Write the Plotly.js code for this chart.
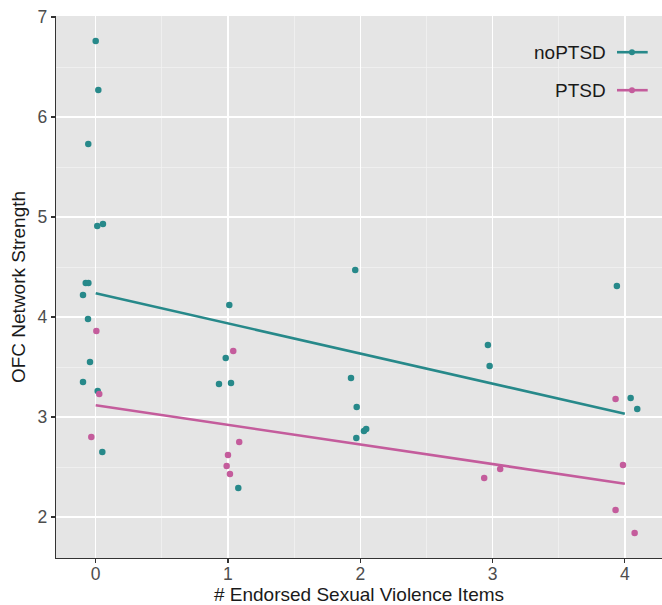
<!DOCTYPE html>
<html>
<head>
<meta charset="utf-8">
<script src="https://cdn.plot.ly/plotly-3.0.1.min.js"></script>
<style>html,body{margin:0;padding:0;background:#fff;}#chart{width:662px;height:605px;}</style>
</head>
<body>
<div id="chart"></div>
<script>
const noPTSD_x = [0.00, 0.02, -0.056, 0.012, 0.055, -0.075, -0.055, -0.096, -0.058, -0.043, -0.096, 0.015, 0.05,
                  1.01, 0.983, 0.932, 1.023, 1.078,
                  1.962, 1.93, 1.973, 2.028, 2.045, 1.97,
                  2.965, 2.978,
                  3.94, 4.044, 4.094];
const noPTSD_y = [6.76, 6.27, 5.73, 4.91, 4.93, 4.34, 4.34, 4.22, 3.98, 3.55, 3.35, 3.26, 2.65,
                  4.12, 3.59, 3.33, 3.34, 2.29,
                  4.47, 3.39, 3.10, 2.86, 2.88, 2.79,
                  3.72, 3.51,
                  4.31, 3.19, 3.08];
const PTSD_x = [0.005, 0.027, -0.033,
                1.04, 1.085, 1.0, 0.99, 1.015,
                3.058, 2.937,
                3.93, 3.986, 3.93, 4.074];
const PTSD_y = [3.86, 3.23, 2.80,
                3.66, 2.75, 2.62, 2.51, 2.43,
                2.48, 2.39,
                3.18, 2.52, 2.07, 1.84];
// Linear fit lines (endpoints)
const fit_x = [0, 4];
const noPTSD_fit = [4.237, 3.033];
const PTSD_fit = [3.117, 2.333];

const groups = ['noPTSD', 'PTSD'];
const xTicks = [0, 1, 2, 3, 4];
const yTicks = [2, 3, 4, 5, 6, 7];

const TEAL = '#27898a';
const PINK = '#c45c9c';

const traces = [
  {x: noPTSD_x, y: noPTSD_y, mode: 'markers', type: 'scatter', marker: {color: TEAL, size: 6.5}, showlegend: false, hoverinfo: 'x+y'},
  {x: PTSD_x, y: PTSD_y, mode: 'markers', type: 'scatter', marker: {color: PINK, size: 6.5}, showlegend: false, hoverinfo: 'x+y'},
  {x: fit_x, y: noPTSD_fit, mode: 'lines', type: 'scatter', line: {color: TEAL, width: 2.6}, showlegend: false},
  {x: fit_x, y: PTSD_fit, mode: 'lines', type: 'scatter', line: {color: PINK, width: 2.6}, showlegend: false}
];

const legendY = [0.9332, 0.8631];
const legendColors = [TEAL, PINK];
const shapes = [];
const annotations = [];
groups.forEach((g, i) => {
  shapes.push({type: 'line', xref: 'paper', yref: 'paper', x0: 0.9257, x1: 0.9764, y0: legendY[i], y1: legendY[i],
               line: {color: legendColors[i], width: 2.6}});
  shapes.push({type: 'circle', xref: 'paper', yref: 'paper', x0: 0.9455, x1: 0.9554,
               y0: legendY[i] - 0.0055, y1: legendY[i] + 0.0055,
               fillcolor: legendColors[i], line: {color: legendColors[i], width: 0}});
  annotations.push({xref: 'paper', yref: 'paper', x: 0.9105, y: legendY[i], xanchor: 'right', yanchor: 'middle',
                    text: g, showarrow: false, font: {family: 'Liberation Sans, Arial, sans-serif', size: 19, color: '#1a1a1a'}});
});

const layout = {
  width: 662, height: 605,
  margin: {l: 56, r: 0, t: 16, b: 47},
  paper_bgcolor: '#ffffff',
  plot_bgcolor: '#e5e5e5',
  font: {family: 'Liberation Sans, Arial, sans-serif'},
  xaxis: {
    range: [-0.300, 4.281], tickvals: xTicks, ticktext: xTicks.map(String),
    showgrid: true, gridcolor: '#ffffff', gridwidth: 1.5,
    minor: {dtick: 0.5, tick0: 0, showgrid: true, gridcolor: '#f3f3f3', gridwidth: 0.7},
    zeroline: false, showline: true, linecolor: '#333333', linewidth: 1.3,
    ticks: 'outside', ticklen: 4, tickcolor: '#333333', tickwidth: 1.2,
    ticklabelstandoff: -4,
    tickfont: {size: 17.5, color: '#4d4d4d'},
    title: {text: '# Endorsed Sexual Violence Items', font: {size: 19, color: '#1a1a1a'}, standoff: 8}
  },
  yaxis: {
    range: [1.59, 7.01], tickvals: yTicks, ticktext: yTicks.map(String),
    showgrid: true, gridcolor: '#ffffff', gridwidth: 1.5,
    minor: {dtick: 0.5, tick0: 0, showgrid: true, gridcolor: '#f3f3f3', gridwidth: 0.7},
    zeroline: false, showline: true, linecolor: '#333333', linewidth: 1.3,
    ticks: 'outside', ticklen: 4, tickcolor: '#333333', tickwidth: 1.2,
    tickfont: {size: 17.5, color: '#4d4d4d'},
    title: {text: 'OFC Network Strength', font: {size: 19, color: '#1a1a1a'}, standoff: 6}
  },
  shapes: shapes,
  annotations: annotations,
  showlegend: false
};

Plotly.newPlot('chart', traces, layout, {displayModeBar: false, staticPlot: true});
</script>
</body>
</html>
